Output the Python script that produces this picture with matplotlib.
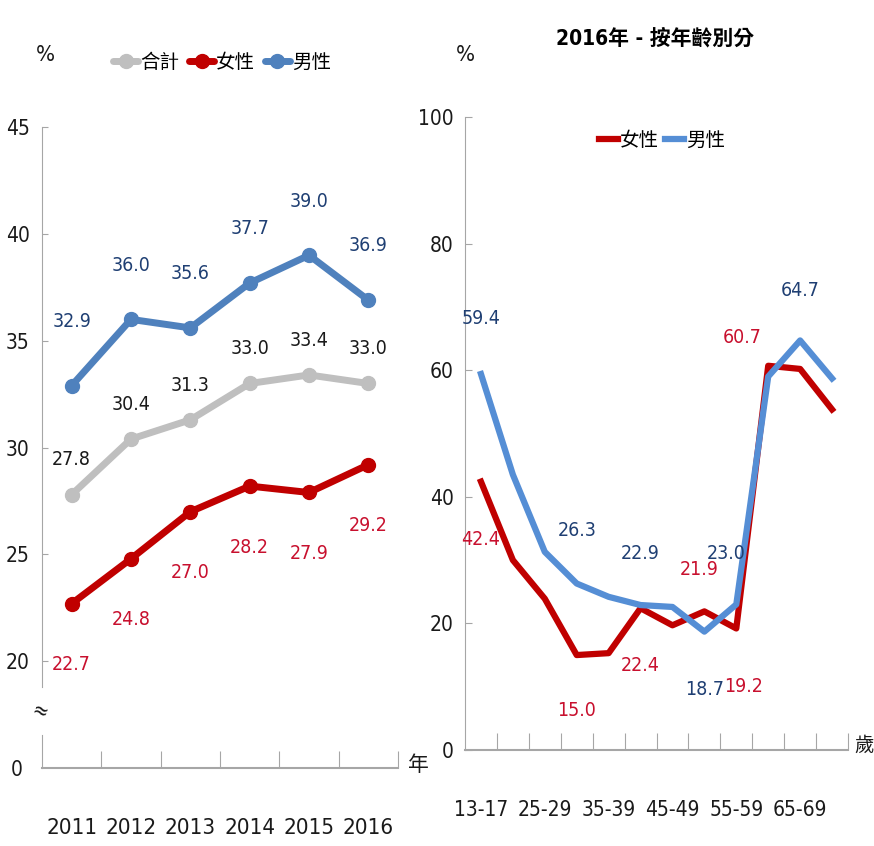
import matplotlib
matplotlib.use('Agg')

from matplotlib import pyplot as plt

plt.rcParams['font.family'] = ['DejaVu Sans', 'Noto Sans CJK TC']
plt.rcParams['font.stretch'] = 'condensed'

# left panel: by year
years = ['2011', '2012', '2013', '2014', '2015', '2016']
total = [27.8, 30.4, 31.3, 33.0, 33.4, 33.0]
female = [22.7, 24.8, 27.0, 28.2, 27.9, 29.2]
male = [32.9, 36.0, 35.6, 37.7, 39.0, 36.9]

# right panel: 2016 by age group
ages = ['13-17', '18-24', '25-29', '30-34', '35-39', '40-44', '45-49',
        '50-54', '55-59', '60-64', '65-69', '70+']
age_female = [42.4, 30.0, 23.9, 15.0, 15.3, 22.4, 19.7, 21.9, 19.2, 60.7, 60.2, 53.8]
age_male = [59.4, 43.5, 31.3, 26.3, 24.2, 22.9, 22.6, 18.7, 23.0, 59.0, 64.7, 58.7]
# (series, index) of the values written on the right panel
age_labelled = [('m', 0), ('f', 0), ('m', 3), ('f', 3), ('m', 5), ('f', 5),
                ('f', 7), ('m', 7), ('m', 8), ('f', 8), ('f', 9), ('m', 10)]

GRAY = '#bfbfbf'
RED = '#c00000'
BLUE_L = '#4f81bd'
BLUE_R = '#558ed5'
TXT_RED = '#c8102e'
TXT_BLUE = '#1f3f73'
TXT = '#1a1a1a'
AXC = '#a6a6a6'

W, H = 874, 846


def fx(px):
    return px / W


def fy(py):
    return 1 - py / H


def main():
    fig = plt.figure(figsize=(W / 100, H / 100), dpi=100)

    # ---- left panel, broken y axis ----
    ax1 = fig.add_axes([fx(42), fy(687), (398 - 42) / W, (687 - 127) / H])
    ax0 = fig.add_axes([fx(42), fy(768), (398 - 42) / W, (768 - 735) / H])
    x = list(range(len(years)))

    kw = dict(linewidth=5, marker='o', markersize=10, solid_capstyle='round')
    l_tot, = ax1.plot(x, total, color=GRAY, **kw)
    l_fem, = ax1.plot(x, female, color=RED, **kw)
    l_mal, = ax1.plot(x, male, color=BLUE_L, **kw)

    for i in x:
        ax1.annotate(f'{total[i]:.1f}', (i, total[i]), xytext=(0, 25), textcoords='offset points',
                     ha='center', va='center', fontsize=14, color=TXT)
        ax1.annotate(f'{female[i]:.1f}', (i, female[i]), xytext=(0, -44), textcoords='offset points',
                     ha='center', va='center', fontsize=14, color=TXT_RED)
        dy = 46 if i == 0 else 39
        ax1.annotate(f'{male[i]:.1f}', (i, male[i]), xytext=(0, dy), textcoords='offset points',
                     ha='center', va='center', fontsize=14, color=TXT_BLUE)

    ax1.set_xlim(-0.5, len(years) - 0.5)
    ax1.set_ylim(18.8, 45)
    ax1.set_yticks([20, 25, 30, 35, 40, 45])
    ax1.set_xticks([])
    for s in ['top', 'right', 'bottom']:
        ax1.spines[s].set_visible(False)
    ax1.spines['left'].set_color(AXC)
    ax1.tick_params(axis='y', direction='in', length=4, color=AXC, labelsize=15,
                    labelcolor=TXT, pad=9)
    ax1.patch.set_alpha(0)

    ax0.set_xlim(-0.5, len(years) - 0.5)
    ax0.set_ylim(0, 1)
    ax0.set_yticks([0])
    ax0.set_xticks([i + 0.5 for i in x])
    ax0.set_xticklabels([])
    ax0.set_xticks(x, minor=True)
    ax0.set_xticklabels(years, minor=True)
    for s in ['top', 'right']:
        ax0.spines[s].set_visible(False)
    ax0.spines['left'].set_color(AXC)
    ax0.spines['bottom'].set_color(AXC)
    ax0.spines['bottom'].set_linewidth(1.5)
    ax0.tick_params(axis='x', which='major', direction='in', length=12, color=AXC)
    ax0.tick_params(axis='x', which='minor', length=0, labelsize=16, labelcolor=TXT, pad=36)
    ax0.tick_params(axis='y', length=0, labelsize=15, labelcolor=TXT, pad=14)
    ax0.patch.set_alpha(0)

    fig.text(fx(40), fy(712), '≈', fontsize=15, ha='center', va='center', color=TXT, rotation=-20)
    fig.text(fx(45), fy(55), '%', fontsize=16, ha='center', va='center', color=TXT)
    fig.text(fx(418), fy(765), '年', fontsize=15, ha='center', va='center', color=TXT)

    fig.legend([l_tot, l_fem, l_mal], ['合計', '女性', '男性'], loc='center',
               bbox_to_anchor=(fx(222), fy(62)), ncol=3, frameon=False, fontsize=14,
               handlelength=1.3, handletextpad=0.1, columnspacing=0.5, numpoints=1)

    # ---- right panel ----
    ax2 = fig.add_axes([fx(465), fy(750), (848 - 465) / W, (750 - 117) / H])
    xa = list(range(len(ages)))
    r_fem, = ax2.plot(xa, age_female, color=RED, linewidth=4.5)
    r_mal, = ax2.plot(xa, age_male, color=BLUE_R, linewidth=4.5)

    offsets = {('m', 0): (0, 40), ('f', 0): (0, -42), ('m', 3): (0, 38), ('f', 3): (0, -40),
               ('m', 5): (0, 37), ('f', 5): (0, -41), ('f', 7): (-4, 30), ('m', 7): (0, -42),
               ('m', 8): (-7, 37), ('f', 8): (5, -42), ('f', 9): (-19, 20), ('m', 10): (0, 36)}
    for key in age_labelled:
        s, i = key
        vals = age_female if s == 'f' else age_male
        col = TXT_RED if s == 'f' else TXT_BLUE
        ax2.annotate(f'{vals[i]:.1f}', (i, vals[i]), xytext=offsets[key], textcoords='offset points',
                     ha='center', va='center', fontsize=14, color=col)

    ax2.set_xlim(-0.5, len(ages) - 0.5)
    ax2.set_ylim(0, 100)
    ax2.set_yticks(range(0, 101, 20))
    ax2.set_xticks([i + 0.5 for i in xa])
    ax2.set_xticklabels([])
    ax2.set_xticks(xa[::2], minor=True)
    ax2.set_xticklabels(ages[::2], minor=True)
    for s in ['top', 'right']:
        ax2.spines[s].set_visible(False)
    ax2.spines['left'].set_color(AXC)
    ax2.spines['bottom'].set_color(AXC)
    ax2.spines['bottom'].set_linewidth(1.5)
    ax2.tick_params(axis='x', which='major', direction='in', length=12, color=AXC)
    ax2.tick_params(axis='x', which='minor', length=0, labelsize=15, labelcolor=TXT, pad=36)
    ax2.tick_params(axis='y', direction='in', length=5, color=AXC, labelsize=15,
                    labelcolor=TXT, pad=8)
    ax2.patch.set_alpha(0)

    fig.text(fx(655), fy(38), '2016年 - 按年齡別分', fontsize=15, fontweight='bold',
             ha='center', va='center', color='black')
    fig.text(fx(465), fy(55), '%', fontsize=16, ha='center', va='center', color=TXT)
    fig.text(fx(854), fy(745), '歲', fontsize=14, ha='left', va='center', color=TXT)

    fig.legend([r_fem, r_mal], ['女性', '男性'], loc='center',
               bbox_to_anchor=(fx(662), fy(140)), ncol=2, frameon=False, fontsize=14,
               handlelength=1.0, handletextpad=0.1, columnspacing=0.3)

    fig.savefig('out.png', dpi=100)


if __name__ == '__main__':
    main()
